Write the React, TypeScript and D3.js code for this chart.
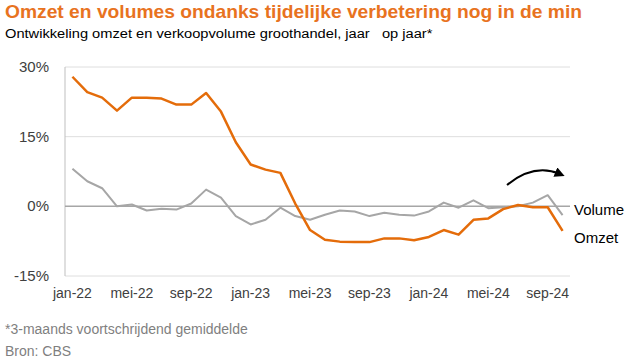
import React from "react";
import * as d3 from "d3";

const monthNames = ["jan", "feb", "mrt", "apr", "mei", "jun", "jul", "aug", "sep", "okt", "nov", "dec"];
const years = ["22", "23", "24"];
const months: string[] = [];
years.forEach((y) => monthNames.forEach((m) => months.push(`${m}-${y}`)));
const categories = months.slice(0, 34); // jan-22 .. okt-24

const omzet = [
  27.9, 24.6, 23.4, 20.6, 23.4, 23.4, 23.2, 21.9, 21.9, 24.4, 20.4, 13.8,
  9.0, 7.9, 7.2, 0.6, -5.1, -7.2, -7.6, -7.7, -7.7, -6.9, -6.9, -7.3,
  -6.6, -5.1, -6.1, -2.9, -2.6, -0.6, 0.3, -0.2, -0.2, -5.3,
];
const volume = [
  8.1, 5.4, 3.9, 0.0, 0.4, -0.9, -0.5, -0.7, 0.6, 3.6, 1.9, -2.1,
  -3.9, -2.9, -0.3, -2.1, -2.9, -1.8, -0.9, -1.1, -2.1, -1.4, -1.8, -2.0,
  -1.1, 0.8, -0.3, 1.3, -0.4, -0.2, 0.0, 0.8, 2.4, -1.9,
];
const yTicks = [-15, 0, 15, 30];
const xTickLabels = ["jan-22", "mei-22", "sep-22", "jan-23", "mei-23", "sep-23", "jan-24", "mei-24", "sep-24"];

const title = "Omzet en volumes ondanks tijdelijke verbetering nog in de min";
const subtitle = "Ontwikkeling omzet en verkoopvolume groothandel, jaar\u00a0\u00a0 op jaar*";
const footnotes = ["*3-maands voortschrijdend gemiddelde", "Bron: CBS"];

const ORANGE = "#E46C0A";
const TITLE_ORANGE = "#E8731F";
const GRAY = "#A6A6A6";
const FONT = "'Liberation Sans', Arial, sans-serif";

export default function App() {
  const W = 626, H = 360;
  const left = 65, right = 570, top = 67, bottom = 276;
  const x = d3.scaleBand<string>().domain(categories).range([left, right]).padding(0);
  const cx = (c: string) => (x(c) as number) + x.bandwidth() / 2;
  const y = d3.scaleLinear().domain([-15, 30]).range([bottom, top]);

  const lineGen = (vals: number[]) =>
    d3.line<number>().x((_, i) => cx(categories[i])).y((v) => y(v))(vals) as string;

  return (
    <svg width={W} height={H} style={{ position: "absolute", left: 0, top: 0, background: "#fff" }} fontFamily={FONT}>
      <defs>
        <marker id="ah" viewBox="0 0 10 10" refX="5" refY="5" markerWidth="5" markerHeight="5" orient="auto">
          <path d="M0,0 L10,5 L0,10 z" fill="#000" />
        </marker>
      </defs>
      <text transform="translate(5,18) scale(1.1,1)" fontSize={17.5} fontWeight="bold" fill={TITLE_ORANGE}>{title}</text>
      <text transform="translate(5,38) scale(1.086,1)" fontSize={13.5} fill="#000">{subtitle}</text>

      {yTicks.map((t) => (
        <g key={t}>
          {t !== 0 && <line x1={left} x2={right} y1={y(t)} y2={y(t)} stroke="#DEDEDE" strokeWidth={1} />}
          <text x={49} y={y(t) + 5} fontSize={15} textAnchor="end" fill="#404040">{`${t}%`}</text>
        </g>
      ))}
      <line x1={left} x2={left} y1={top} y2={bottom} stroke="#BFBFBF" strokeWidth={1} />
      <line x1={left} x2={right} y1={y(0)} y2={y(0)} stroke={GRAY} strokeWidth={1.5} />

      {xTickLabels.map((l) => (
        <text key={l} x={cx(l)} y={298} fontSize={14} textAnchor="middle" fill="#404040">{l}</text>
      ))}

      <path d={lineGen(volume)} fill="none" stroke={GRAY} strokeWidth={2} strokeLinejoin="round" />
      <path d={lineGen(omzet)} fill="none" stroke={ORANGE} strokeWidth={2.5} strokeLinejoin="round" />

      <text x={574} y={215} fontSize={15} fill="#000">Volume</text>
      <text x={574} y={243} fontSize={15} fill="#000">Omzet</text>

      <path d="M507,185 Q534,163 560,174" fill="none" stroke="#000" strokeWidth={2} markerEnd="url(#ah)" />

      {footnotes.map((f, i) => (
        <text key={f} x={5} y={334 + i * 22} fontSize={14} fill="#7F7F7F">{f}</text>
      ))}
    </svg>
  );
}
